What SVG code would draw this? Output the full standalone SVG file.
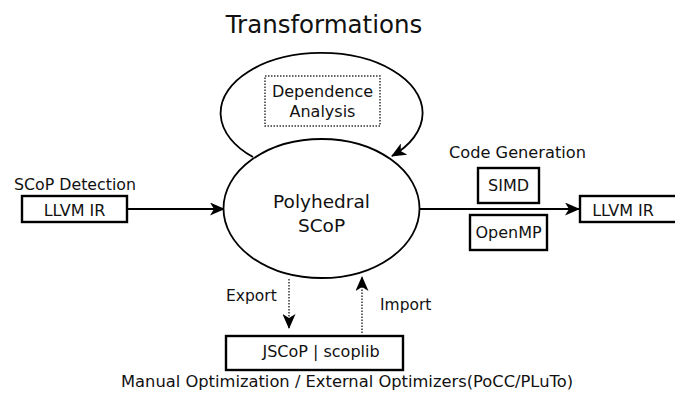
<svg xmlns="http://www.w3.org/2000/svg" width="675" height="394" viewBox="0 0 675 394">
  <style>
    text { font-family: "DejaVu Sans", "Liberation Sans", sans-serif; fill: #111; }
    .lbl { font-size: 16px; text-anchor: middle; }
    .box { fill: #fff; stroke: #000; stroke-width: 2.4; }
    .solid { fill: none; stroke: #000; stroke-width: 1.8; }
    .dots { fill: none; stroke: #333; stroke-width: 1.5; stroke-dasharray: 1.5 1.5; }
  </style>
  <defs>
    <marker id="head" markerUnits="userSpaceOnUse" viewBox="0 0 15 13" refX="14" refY="6.5" markerWidth="15" markerHeight="13" orient="auto">
      <path d="M0,0 L15,6.5 L0,13 L4,6.5 Z" fill="#000"/>
    </marker>
  </defs>

  <rect width="675" height="394" fill="#fff"/>

  <!-- title -->
  <text x="324" y="33" font-size="24.5" text-anchor="middle">Transformations</text>

  <!-- connectors -->
  <g id="connectors">
    <path class="solid" d="M253,157 A101,60 0 1 1 392,156" marker-end="url(#head)"/>
    <line class="solid" x1="127" y1="209" x2="224" y2="209" marker-end="url(#head)"/>
    <line class="solid" x1="420" y1="209" x2="579" y2="209" marker-end="url(#head)"/>
    <line class="dots" x1="289" y1="279" x2="289" y2="328" marker-end="url(#head)"/>
    <line class="dots" x1="362" y1="333" x2="362" y2="277" marker-end="url(#head)"/>
  </g>

  <!-- dependence analysis -->
  <g id="dependence">
    <rect class="dots" x="265" y="76" width="115" height="50"/>
    <text class="lbl" x="322.5" y="97">Dependence</text>
    <text class="lbl" x="322.5" y="117">Analysis</text>
  </g>

  <!-- central SCoP -->
  <g id="scop">
    <ellipse cx="321.5" cy="208.5" rx="98" ry="69.5" fill="#fff" stroke="#000" stroke-width="1.8"/>
    <text x="321.5" y="208" font-size="18.5" text-anchor="middle">Polyhedral</text>
    <text x="321.5" y="232" font-size="18.5" text-anchor="middle">SCoP</text>
  </g>

  <!-- input -->
  <g id="input">
    <text x="14" y="190" font-size="15.8">SCoP Detection</text>
    <rect class="box" x="22" y="196" width="105" height="26"/>
    <text class="lbl" x="74.5" y="215.5">LLVM IR</text>
  </g>

  <!-- code generation -->
  <g id="codegen">
    <text x="449" y="158" font-size="16.2">Code Generation</text>
    <rect class="box" x="478" y="168" width="61" height="35"/>
    <text class="lbl" x="508.5" y="191">SIMD</text>
    <rect class="box" x="470" y="215" width="77" height="35"/>
    <text class="lbl" x="508.5" y="238">OpenMP</text>
  </g>

  <!-- output -->
  <g id="output">
    <rect class="box" x="580" y="196" width="100" height="26"/>
    <text class="lbl" x="623" y="215.5">LLVM IR</text>
  </g>

  <!-- export / import -->
  <g id="exchange">
    <text x="226" y="301" font-size="15.5">Export</text>
    <text x="380" y="310" font-size="15.5">Import</text>
    <rect class="box" x="226" y="336" width="177" height="34"/>
    <text class="lbl" x="321" y="357">JSCoP | scoplib</text>
    <text x="121" y="387" font-size="15.5" textLength="452" lengthAdjust="spacingAndGlyphs">Manual Optimization / External Optimizers(PoCC/PLuTo)</text>
  </g>
</svg>
